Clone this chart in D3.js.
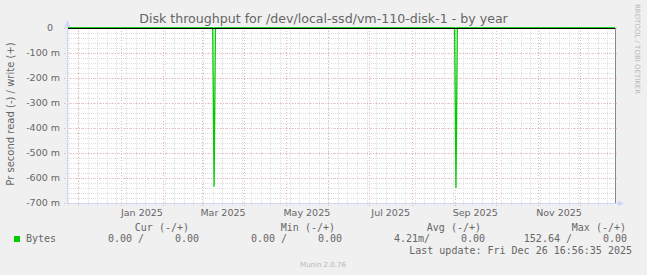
<!DOCTYPE html>
<html>
<head>
<meta charset="utf-8">
<script src="https://cdn.jsdelivr.net/npm/d3@7"></script>
<style>
    body { margin: 0; background: #f0f0f0; }
    svg { display: block; }
</style>
</head>
<body>
<div id="chart"></div>
<script>
// Time window of the yearly graph
const rangeStart = '2024-11-23T00:00:00';
const rangeEnd = '2025-12-26T16:56:35';

// Read series (drawn negative), daily samples around the two bursts
const readDates = ['2024-11-23', '2025-03-09', '2025-03-10', '2025-03-11',
    '2025-09-01', '2025-09-02', '2025-09-03', '2025-12-26'];
const readValues = [0, 0, -0.635, 0, 0, -0.64, 0, 0];

// Write series stays flat at zero
const writeDates = ['2024-11-23', '2025-12-26'];
const writeValues = [0, 0];

// Y axis labels (read is negative)
const yTickValues = [0, -0.1, -0.2, -0.3, -0.4, -0.5, -0.6, -0.7];

// Legend
const legendHeaders = ['Cur (-/+)', 'Min (-/+)', 'Avg (-/+)', 'Max (-/+)'];
const legendRead = ['  0.00 /', '  0.00 /', '  4.21m/', '152.64 /'];
const legendWrite = ['0.00', '0.00', '0.00', '0.00'];

const width = 647;
const height = 275;
const plot = { left: 67, right: 615, top: 28, bottom: 203 };

const colors = {
    back: '#f0f0f0',
    canvas: '#ffffff',
    font: '#666666',
    axis: '#cfd6f8',
    grid: '#dedede',
    mgrid: '#efb4b4',
    line: '#00cc00'
};

const parseDay = d3.timeParse('%Y-%m-%d');
const parseTime = d3.timeParse('%Y-%m-%dT%H:%M:%S');

function renderChart() {
    const svg = d3.select('#chart')
        .append('svg')
        .attr('width', width)
        .attr('height', height)
        .style('font-family', '"DejaVu Sans", sans-serif');

    svg.append('rect')
        .attr('width', width)
        .attr('height', height)
        .attr('fill', colors.back);

    const t0 = parseTime(rangeStart);
    const t1 = parseTime(rangeEnd);

    const x = d3.scaleTime().domain([t0, t1]).range([plot.left, plot.right]);
    const y = d3.scaleLinear().domain([-0.7, 0]).range([plot.bottom, plot.top]);

    // Canvas
    svg.append('rect')
        .attr('x', plot.left)
        .attr('y', plot.top)
        .attr('width', plot.right - plot.left)
        .attr('height', plot.bottom - plot.top)
        .attr('fill', colors.canvas);

    const grid = svg.append('g').attr('shape-rendering', 'crispEdges');

    // Minor grid: weeks and every 20 m
    const weeks = d3.timeSunday.range(t0, t1);
    grid.selectAll('line.wk')
        .data(weeks)
        .join('line')
        .attr('class', 'wk')
        .attr('x1', d => Math.round(x(d)) + 0.5)
        .attr('x2', d => Math.round(x(d)) + 0.5)
        .attr('y1', plot.top)
        .attr('y2', plot.bottom + 2)
        .attr('stroke', colors.grid)
        .attr('stroke-dasharray', '1,1');

    const minorY = y.ticks(35);
    grid.selectAll('line.my')
        .data(minorY)
        .join('line')
        .attr('class', 'my')
        .attr('x1', plot.left - 2)
        .attr('x2', plot.right)
        .attr('y1', d => Math.round(y(d)) + 0.5)
        .attr('y2', d => Math.round(y(d)) + 0.5)
        .attr('stroke', colors.grid)
        .attr('stroke-dasharray', '1,1');

    // Major grid: months and every 100 m
    const months = d3.timeMonth.range(t0, t1);
    grid.selectAll('line.mo')
        .data(months)
        .join('line')
        .attr('class', 'mo')
        .attr('x1', d => Math.round(x(d)) + 0.5)
        .attr('x2', d => Math.round(x(d)) + 0.5)
        .attr('y1', plot.top)
        .attr('y2', plot.bottom + 3)
        .attr('stroke', colors.mgrid)
        .attr('stroke-dasharray', '1,2');

    grid.selectAll('line.majy')
        .data(yTickValues)
        .join('line')
        .attr('class', 'majy')
        .attr('x1', plot.left - 3)
        .attr('x2', plot.right + 3)
        .attr('y1', d => Math.round(y(d)) + 0.5)
        .attr('y2', d => Math.round(y(d)) + 0.5)
        .attr('stroke', colors.mgrid)
        .attr('stroke-dasharray', '1,2');

    // Data lines
    const line = d3.line()
        .x(d => x(d.date))
        .y(d => y(d.value));

    const writeData = writeDates.map((d, i) => ({ date: parseDay(d), value: writeValues[i] }));
    const readData = readDates.map((d, i) => ({ date: parseDay(d), value: readValues[i] }));
    writeData[0].date = t0;
    writeData[writeData.length - 1].date = t1;
    readData[0].date = t0;
    readData[readData.length - 1].date = t1;

    svg.append('path')
        .datum(writeData)
        .attr('d', line)
        .attr('fill', 'none')
        .attr('stroke', colors.line)
        .attr('stroke-width', 1);

    svg.append('path')
        .datum(readData)
        .attr('d', line)
        .attr('fill', 'none')
        .attr('stroke', colors.line)
        .attr('stroke-width', 1.3);

    // Zero line
    svg.append('line')
        .attr('x1', plot.left)
        .attr('x2', plot.right)
        .attr('y1', y(0) + 0.5)
        .attr('y2', y(0) + 0.5)
        .attr('stroke', '#000')
        .attr('stroke-width', 1.2);

    // Right edge marker
    svg.append('line')
        .attr('x1', plot.right + 0.5)
        .attr('x2', plot.right + 0.5)
        .attr('y1', plot.top)
        .attr('y2', plot.bottom)
        .attr('stroke', '#888')
        .attr('stroke-width', 1);

    // Axes with arrows
    svg.append('line')
        .attr('x1', plot.left + 0.5)
        .attr('x2', plot.left + 0.5)
        .attr('y1', plot.bottom + 0.5)
        .attr('y2', plot.top - 1)
        .attr('stroke', colors.axis);
    svg.append('path')
        .attr('d', `M${plot.left - 2.5},${plot.top - 1} L${plot.left + 3.5},${plot.top - 1} L${plot.left + 0.5},${plot.top - 8} Z`)
        .attr('fill', colors.axis);

    svg.append('line')
        .attr('x1', plot.left)
        .attr('x2', plot.right + 4)
        .attr('y1', plot.bottom + 0.5)
        .attr('y2', plot.bottom + 0.5)
        .attr('stroke', colors.axis);
    svg.append('path')
        .attr('d', `M${plot.right + 3},${plot.bottom - 2.5} L${plot.right + 3},${plot.bottom + 3.5} L${plot.right + 9},${plot.bottom + 0.5} Z`)
        .attr('fill', colors.axis);

    // Y tick labels
    svg.append('g')
        .selectAll('text')
        .data(yTickValues)
        .join('text')
        .attr('x', d => d === 0 ? 53 : 60)
        .attr('y', d => y(d))
        .attr('dy', '0.35em')
        .attr('text-anchor', 'end')
        .attr('font-size', '9.5px')
        .attr('fill', colors.font)
        .text(d => d === 0 ? '0' : `${Math.round(d * 1000)} m`);

    // X labels every second month, centred in the month
    const labelMonths = months.filter(m => m.getMonth() % 2 === 0);
    svg.append('g')
        .selectAll('text')
        .data(labelMonths)
        .join('text')
        .attr('x', d => (x(d) + x(d3.timeMonth.offset(d, 1))) / 2)
        .attr('y', 216)
        .attr('text-anchor', 'middle')
        .attr('font-size', '9.5px')
        .attr('fill', colors.font)
        .text(d3.timeFormat('%b %Y'));

    // Title
    svg.append('text')
        .attr('x', 323.5)
        .attr('y', 23)
        .attr('text-anchor', 'middle')
        .attr('font-size', '12.6px')
        .attr('fill', colors.font)
        .text('Disk throughput for /dev/local-ssd/vm-110-disk-1 - by year');

    // Vertical axis title
    svg.append('text')
        .attr('transform', 'translate(14,114) rotate(-90)')
        .attr('text-anchor', 'middle')
        .attr('font-size', '10px')
        .attr('fill', colors.font)
        .text('Pr second read (-) / write (+)');

    // Watermark
    svg.append('text')
        .attr('transform', 'translate(635,4) rotate(90)')
        .attr('font-size', '7px')
        .attr('fill', '#b8b8b8')
        .text('RRDTOOL / TOBI OETIKER');

    // Legend (monospace, like rrdtool)
    const legend = svg.append('g')
        .style('font-family', '"DejaVu Sans Mono", monospace')
        .attr('font-size', '10px')
        .attr('fill', colors.font)
        .attr('xml:space', 'preserve');

    const colEnds = [199, 342, 485, 627];

    legend.selectAll('text.hdr')
        .data(legendHeaders)
        .join('text')
        .attr('class', 'hdr')
        .attr('x', (d, i) => colEnds[i] - 10 + i * 3)
        .attr('y', 231)
        .attr('text-anchor', 'end')
        .text(d => d);

    legend.append('rect')
        .attr('x', 14)
        .attr('y', 236)
        .attr('width', 6)
        .attr('height', 6)
        .attr('fill', colors.line);

    legend.append('text')
        .attr('x', 26)
        .attr('y', 242)
        .text('Bytes');

    legend.selectAll('text.rd')
        .data(legendRead)
        .join('text')
        .attr('class', 'rd')
        .attr('x', (d, i) => colEnds[i] - 55)
        .attr('y', 242)
        .attr('text-anchor', 'end')
        .text(d => d);

    legend.selectAll('text.wr')
        .data(legendWrite)
        .join('text')
        .attr('class', 'wr')
        .attr('x', (d, i) => colEnds[i])
        .attr('y', 242)
        .attr('text-anchor', 'end')
        .text(d => d);

    legend.append('text')
        .attr('x', 632)
        .attr('y', 254)
        .attr('text-anchor', 'end')
        .text('Last update: Fri Dec 26 16:56:35 2025');

    svg.append('text')
        .attr('x', 323)
        .attr('y', 267)
        .attr('text-anchor', 'middle')
        .attr('font-size', '7px')
        .attr('fill', '#b8b8b8')
        .text('Munin 2.0.76');
}

renderChart();
</script>
</body>
</html>
